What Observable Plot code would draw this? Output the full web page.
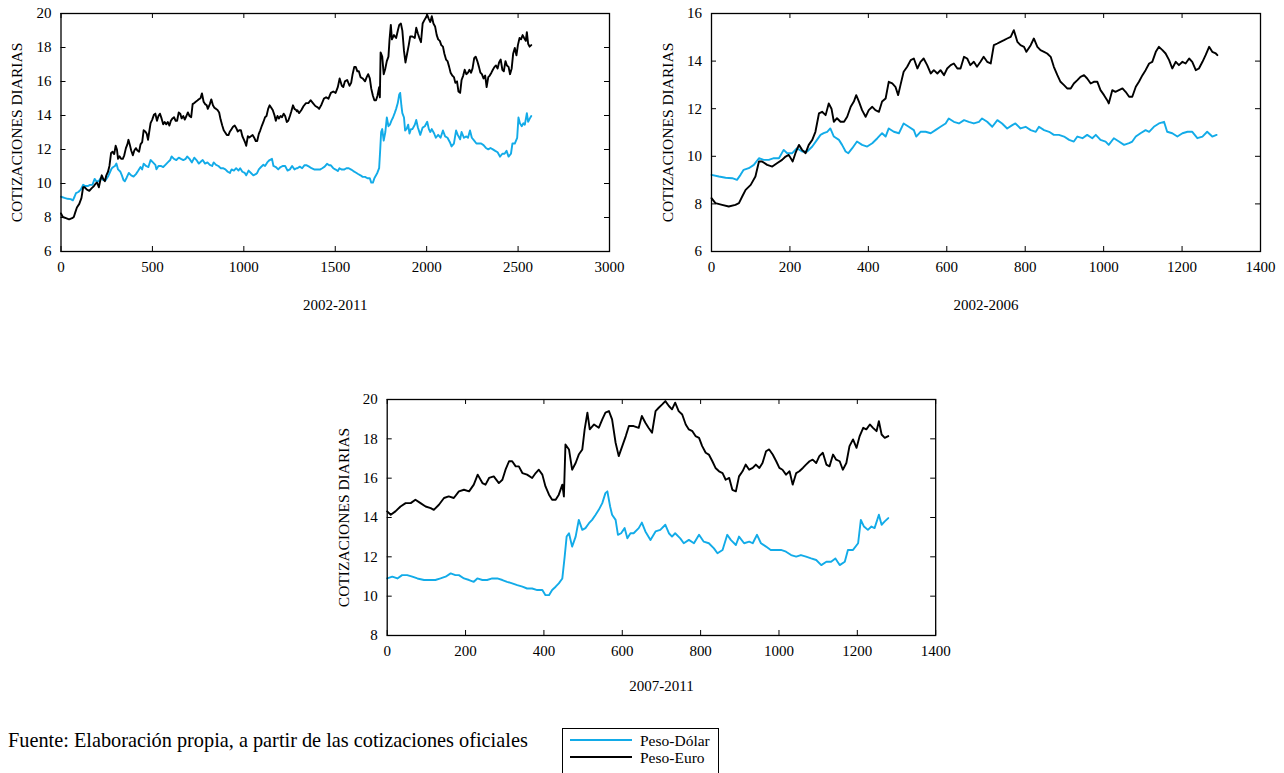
<!DOCTYPE html>
<html>
<head>
<meta charset="utf-8">
<script src="https://cdn.jsdelivr.net/npm/d3@7"></script>
<script src="https://cdn.jsdelivr.net/npm/@observablehq/plot@0.6"></script>
<style>
  body { margin: 0; background: #fff; }
  #root { position: relative; width: 1284px; height: 773px; overflow: hidden; font-family: "Liberation Serif", "Times New Roman", serif; color: #000; }
  .panel { position: absolute; }
  #fuente { position: absolute; left: 8px; top: 730px; font-size: 20.3px; line-height: 20px; white-space: nowrap; }
  #legend { position: absolute; left: 562px; top: 728px; width: 157px; height: 46px; border: 1px solid #000; box-sizing: border-box; font-size: 15.5px; }
  .item { position: absolute; left: 7px; height: 17px; line-height: 17px; display: flex; align-items: center; white-space: nowrap; }
  .sw { display: inline-block; width: 62px; height: 0; border-top: 2px solid; margin-right: 8px; }
</style>
</head>
<body>
<div id="root">
  <div id="fuente">Fuente: Elaboración propia, a partir de las cotizaciones oficiales</div>
  <div id="legend"></div>
</div>
<script>
// ---- Data: [día, cotización] ----
const dolar2002_2006 = [[0,9.22],[19,9.15],[36,9.1],[53,9.08],[65,9.01],[74,9.22],[82,9.43],[95,9.5],[108,9.64],[121,9.92],[133,9.85],[146,9.85],[159,9.92],[172,9.92],[184,10.27],[193,10.13],[206,10.13],[218,10.34],[231,10.2],[244,10.2],[257,10.41],[269,10.69],[278,10.9],[286,10.97],[295,11.03],[303,11.17],[312,10.83],[325,10.69],[333,10.48],[342,10.2],[349,10.13],[359,10.34],[371,10.62],[384,10.48],[397,10.41],[410,10.55],[423,10.76],[435,10.97],[444,10.83],[452,11.17],[465,11.03],[478,10.97],[490,11.38],[503,11.24],[516,11.1],[522,10.83],[533,11.03],[546,11.03],[559,10.97],[571,11.1],[584,11.24],[597,11.38],[605,11.59],[618,11.45],[631,11.38],[644,11.52],[656,11.45],[669,11.38],[682,11.45],[690,11.59],[703,11.45],[716,11.24],[729,11.52],[741,11.38],[754,11.17],[767,11.31],[775,11.38],[788,11.17],[801,11.24],[814,11.1],[827,11.03],[835,11.24],[848,11.1],[861,11.03],[873,10.9],[886,10.9],[899,10.83],[912,10.69],[924,10.62],[933,10.83],[946,10.76],[958,10.9],[971,10.76],[980,10.9],[992,10.69],[1005,10.62],[1013,10.48],[1026,10.76],[1039,10.62],[1052,10.48],[1065,10.55],[1073,10.62],[1082,10.83],[1094,10.97],[1107,11.1],[1116,11.03],[1128,11.24],[1141,11.38],[1154,11.45],[1162,11.03],[1175,10.97],[1188,10.83],[1201,10.97],[1214,11.03],[1226,11.03],[1239,10.76],[1252,10.83],[1264,11.03],[1277,10.83],[1288,10.9]];

const euro2002_2006 = [[0,8.24],[10,8.03],[27,7.96],[44,7.89],[61,7.96],[70,8.03],[78,8.3],[87,8.59],[100,8.8],[112,9.15],[121,9.78],[129,9.78],[142,9.64],[155,9.57],[167,9.71],[180,9.85],[189,9.99],[197,10.06],[207,9.78],[214,10.13],[223,10.48],[231,10.27],[240,10.13],[248,10.48],[257,10.69],[265,11.03],[274,11.8],[282,11.87],[291,11.73],[299,12.22],[306,12.0],[312,11.45],[320,11.6],[329,11.45],[338,11.45],[346,11.66],[355,12.08],[363,12.3],[369,12.57],[376,12.3],[384,11.94],[393,11.66],[401,11.94],[410,12.08],[418,11.94],[427,11.87],[435,12.3],[444,12.43],[452,13.13],[461,13.06],[469,12.92],[476,12.57],[482,13.0],[490,13.55],[499,13.76],[508,14.04],[516,14.11],[525,13.69],[533,13.97],[541,14.11],[550,13.83],[559,13.48],[567,13.62],[576,13.48],[584,13.62],[593,13.41],[601,13.69],[610,13.83],[618,13.9],[627,13.69],[635,13.69],[644,14.18],[652,14.11],[660,13.83],[669,13.97],[677,13.76],[686,13.97],[694,14.18],[703,13.97],[712,13.9],[720,14.67],[729,14.74],[737,14.81],[746,14.88],[754,14.95],[763,15.02],[771,15.3],[780,14.81],[788,14.67],[797,14.6],[803,14.39],[814,14.67],[822,14.95],[831,14.6],[839,14.46],[848,14.39],[856,14.32],[865,14.18],[873,13.76],[882,13.41],[890,13.13],[899,12.99],[907,12.85],[916,12.85],[924,13.06],[933,13.2],[941,13.34],[950,13.41],[958,13.27],[967,13.06],[975,13.13],[984,13.13],[992,12.78],[1001,12.57],[1009,12.36],[1013,12.22],[1022,12.78],[1030,12.71],[1039,12.78],[1048,12.85],[1056,12.71],[1065,12.5],[1073,12.5],[1082,12.92],[1090,13.13],[1099,13.41],[1107,13.62],[1116,13.9],[1124,13.97],[1133,14.39],[1141,14.6],[1150,14.46],[1158,14.32],[1167,14.04],[1175,13.69],[1184,13.97],[1192,13.83],[1201,13.97],[1209,13.9],[1218,14.11],[1226,13.97],[1235,13.62],[1243,13.69],[1252,13.97],[1260,14.25],[1269,14.6],[1277,14.39],[1286,14.32],[1290,14.25]];

const dolar2007_2011 = [[0,10.9],[13,10.99],[26,10.9],[38,11.07],[51,11.07],[64,10.99],[77,10.9],[94,10.82],[111,10.82],[123,10.82],[136,10.9],[149,10.99],[162,11.16],[174,11.07],[183,11.07],[196,10.9],[209,10.82],[221,10.73],[230,10.9],[243,10.82],[255,10.82],[268,10.9],[281,10.9],[294,10.82],[306,10.73],[319,10.65],[332,10.56],[345,10.48],[357,10.39],[370,10.39],[383,10.31],[396,10.31],[404,10.05],[413,10.05],[421,10.31],[430,10.48],[438,10.65],[447,10.9],[453,12.01],[458,13.03],[464,13.2],[472,12.52],[481,13.03],[489,13.88],[498,13.37],[506,13.46],[515,13.71],[523,13.88],[532,14.14],[540,14.39],[549,14.73],[557,15.24],[562,15.33],[569,14.56],[574,14.14],[583,13.88],[589,13.12],[597,13.2],[606,13.46],[613,12.94],[621,13.2],[629,13.2],[642,13.46],[650,13.74],[659,13.29],[672,12.86],[685,13.29],[697,13.37],[710,13.63],[719,13.2],[727,13.03],[735,13.2],[748,12.94],[757,12.69],[770,12.86],[783,12.69],[796,13.12],[808,12.77],[821,12.69],[834,12.43],[843,12.18],[856,12.35],[868,13.12],[877,12.86],[890,12.6],[898,13.03],[911,12.69],[924,12.77],[933,12.69],[944,13.12],[954,12.69],[967,12.52],[979,12.35],[992,12.35],[1005,12.35],[1018,12.26],[1031,12.09],[1044,12.01],[1056,12.09],[1069,12.01],[1082,11.92],[1095,11.84],[1108,11.58],[1121,11.75],[1133,11.75],[1144,11.92],[1155,11.58],[1168,11.75],[1176,12.35],[1189,12.35],[1202,12.69],[1209,13.88],[1217,13.54],[1227,13.37],[1236,13.54],[1244,13.46],[1255,14.14],[1262,13.63],[1270,13.8],[1279,13.97]];

const euro2007_2011 = [[0,14.31],[9,14.14],[21,14.31],[34,14.56],[47,14.73],[60,14.73],[72,14.9],[85,14.73],[98,14.56],[111,14.48],[119,14.39],[132,14.65],[145,14.99],[157,15.07],[170,14.99],[183,15.33],[196,15.41],[209,15.33],[221,15.67],[231,16.18],[243,15.75],[251,15.67],[260,16.01],[272,16.09],[285,15.75],[294,15.92],[302,16.43],[311,16.86],[319,16.86],[328,16.6],[336,16.6],[345,16.26],[357,16.18],[370,16.01],[379,16.26],[387,16.43],[396,16.18],[404,15.58],[413,15.16],[421,14.9],[430,14.9],[438,15.16],[447,15.67],[451,15.07],[455,17.71],[464,17.46],[472,16.43],[481,16.77],[489,17.2],[498,17.46],[504,18.48],[511,19.33],[517,18.48],[528,18.73],[540,18.56],[549,18.99],[557,19.33],[566,19.41],[574,18.99],[583,17.8],[591,17.12],[600,17.63],[609,18.14],[617,18.65],[629,18.65],[642,18.56],[650,19.16],[659,18.82],[667,18.56],[676,18.31],[685,19.41],[693,19.58],[702,19.75],[710,19.92],[719,19.67],[727,19.5],[735,19.84],[744,19.41],[753,19.24],[762,18.73],[770,18.48],[779,18.39],[787,18.14],[796,18.05],[804,17.63],[813,17.29],[821,17.2],[830,16.86],[838,16.52],[847,16.35],[856,16.26],[864,15.92],[873,16.01],[881,15.41],[890,15.33],[898,16.09],[907,16.35],[915,16.69],[924,16.43],[933,16.52],[941,16.69],[950,16.52],[958,16.77],[967,17.37],[975,17.46],[984,17.2],[993,16.86],[1001,16.52],[1009,16.43],[1018,16.18],[1027,16.35],[1035,15.67],[1044,16.26],[1052,16.35],[1061,16.52],[1069,16.69],[1078,16.86],[1086,16.94],[1095,16.77],[1103,17.12],[1112,17.29],[1121,16.69],[1129,16.6],[1138,17.2],[1146,16.94],[1155,16.86],[1163,16.43],[1172,16.77],[1180,17.63],[1189,17.97],[1198,17.54],[1206,18.14],[1215,18.56],[1223,18.48],[1232,18.73],[1240,18.56],[1249,18.39],[1255,18.9],[1262,18.22],[1270,18.05],[1279,18.14]];

// Days of the first period, used to place the second period in the full 2002-2011 panel
const offset2007 = 1293;

const xTicksFull = [0, 500, 1000, 1500, 2000, 2500, 3000];
const xTicksHalf = [0, 200, 400, 600, 800, 1000, 1200, 1400];
const yTicksFull = [6, 8, 10, 12, 14, 16, 18, 20];
const yTicks0206 = [6, 8, 10, 12, 14, 16];
const yTicks0711 = [8, 10, 12, 14, 16, 18, 20];

const panelTitles = ["2002-2011", "2002-2006", "2007-2011"];
const yTitle = "COTIZACIONES DIARIAS";
const seriesNames = ["Peso-Dólar", "Peso-Euro"];
const seriesColors = ["#12abe8", "#000000"];

const dolarFull = dolar2002_2006.concat(dolar2007_2011.map(([d, v]) => [d + offset2007, v]));
const euroFull = euro2002_2006.concat(euro2007_2011.map(([d, v]) => [d + offset2007, v]));

const FONT = '"Liberation Serif", "Times New Roman", serif';

function panel({left, top, iw, ih, ml, xDomain, xTicks, yDomain, yTicks, dolar, euro, title, titleDy}) {
  const mt = 13, mr = 16, mb = 72;
  const chart = Plot.plot({
    width: ml + iw + mr,
    height: mt + ih + mb,
    marginLeft: ml, marginRight: mr, marginTop: mt, marginBottom: mb,
    style: {fontFamily: FONT, fontSize: "15px", color: "#000", background: "transparent", overflow: "visible"},
    x: {domain: xDomain, ticks: xTicks, tickSize: 0, tickPadding: 10, tickFormat: d => String(d), label: null},
    y: {domain: yDomain, ticks: yTicks, tickSize: 0, tickPadding: 9.5, tickFormat: d => String(d), label: null},
    marks: [
      Plot.line(dolar, {x: d => d[0], y: d => d[1], stroke: seriesColors[0], strokeWidth: 1.9, strokeLinejoin: "round"}),
      Plot.line(euro, {x: d => d[0], y: d => d[1], stroke: seriesColors[1], strokeWidth: 1.9, strokeLinejoin: "round"}),
      Plot.tickX(xTicks, {x: d => d, insetTop: ih - 5, stroke: "#000"}),
      Plot.tickX(xTicks, {x: d => d, insetBottom: ih - 5, stroke: "#000"}),
      Plot.tickY(yTicks, {y: d => d, insetRight: iw - 5, stroke: "#000"}),
      Plot.tickY(yTicks, {y: d => d, insetLeft: iw - 5, stroke: "#000"}),
      Plot.frame({stroke: "#000", strokeWidth: 1.3}),
      Plot.text([title], {frameAnchor: "bottom", textAnchor: "middle", dy: titleDy, fontSize: 15, fill: "#000"}),
      Plot.text([yTitle], {frameAnchor: "left", textAnchor: "middle", rotate: -90, dx: -43.5, fontSize: 15.5, fill: "#000"})
    ]
  });
  chart.classList.add("panel");
  chart.style.left = left + "px";
  chart.style.top = top + "px";
  document.getElementById("root").appendChild(chart);
}

panel({left: 0, top: 0, iw: 548.5, ih: 238, ml: 60.5, xDomain: [0, 3000], xTicks: xTicksFull, yDomain: [6, 20], yTicks: yTicksFull, dolar: dolarFull, euro: euroFull, title: panelTitles[0], titleDy: 58});
panel({left: 650, top: 0, iw: 549, ih: 238, ml: 61, xDomain: [0, 1400], xTicks: xTicksHalf, yDomain: [6, 16], yTicks: yTicks0206, dolar: dolar2002_2006, euro: euro2002_2006, title: panelTitles[1], titleDy: 58});
panel({left: 326, top: 386, iw: 548.5, ih: 236, ml: 60.7, xDomain: [0, 1400], xTicks: xTicksHalf, yDomain: [8, 20], yTicks: yTicks0711, dolar: dolar2007_2011, euro: euro2007_2011, title: panelTitles[2], titleDy: 56});

// Legend
const legend = document.getElementById("legend");
seriesNames.forEach((name, i) => {
  const item = document.createElement("div");
  item.className = "item";
  item.style.top = (2.5 + i * 17) + "px";
  const sw = document.createElement("span");
  sw.className = "sw";
  sw.style.borderTopColor = seriesColors[i];
  item.appendChild(sw);
  item.appendChild(document.createTextNode(name));
  legend.appendChild(item);
});
</script>
</body>
</html>
